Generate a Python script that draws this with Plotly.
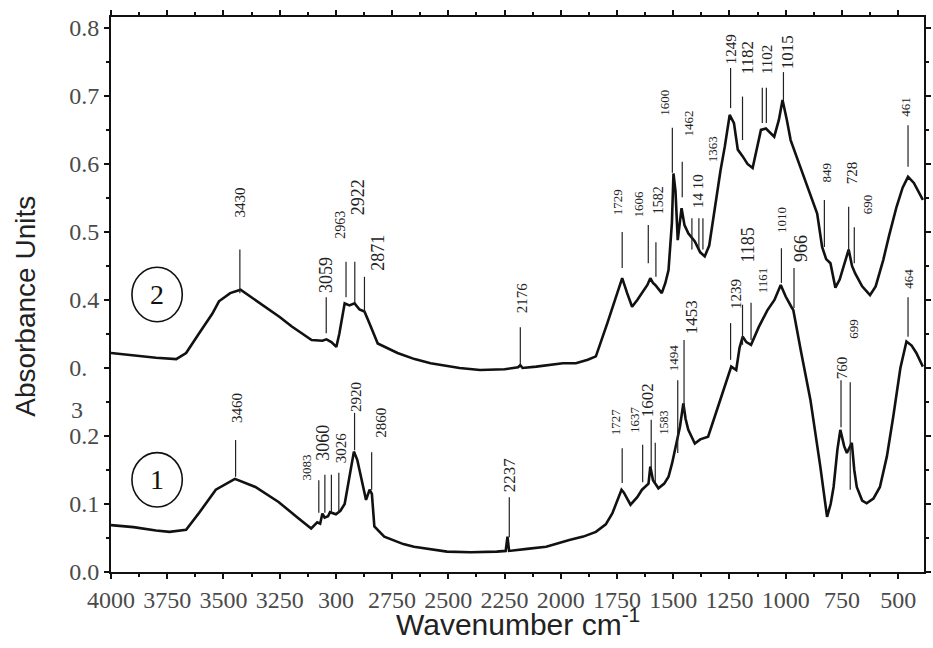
import plotly.graph_objects as go

# ---------------- data ----------------
wn1 = [4000, 3900, 3800, 3740, 3666, 3608, 3534, 3449, 3358, 3255, 3167, 3110, 3083, 3070, 3060, 3050,
       3035, 3026, 3000, 2980, 2961, 2940, 2920, 2905, 2895, 2866, 2850, 2840, 2829, 2785, 2700, 2653,
       2506, 2400, 2285, 2245, 2237, 2230, 2150, 2065, 1962, 1900, 1844, 1800, 1771, 1745, 1730, 1720,
       1690, 1660, 1639, 1610, 1602, 1590, 1566, 1540, 1521, 1505, 1492, 1470, 1455, 1445, 1433, 1404,
       1380, 1345, 1301, 1270, 1242, 1220, 1205, 1191, 1175, 1154, 1120, 1081, 1050, 1022, 1000, 975,
       966, 933, 890, 846, 816, 800, 787, 770, 757, 740, 728, 706, 695, 684, 660, 640, 610, 581, 550,
       522, 490, 463, 440, 419, 390]
ab1 = [0.069, 0.066, 0.061, 0.059, 0.062, 0.087, 0.121, 0.137, 0.125, 0.103, 0.079, 0.064, 0.073, 0.071,
       0.086, 0.080, 0.082, 0.088, 0.085, 0.090, 0.100, 0.140, 0.177, 0.165, 0.150, 0.106, 0.121, 0.115,
       0.067, 0.052, 0.041, 0.037, 0.030, 0.029, 0.030, 0.031, 0.052, 0.031, 0.034, 0.037, 0.047, 0.052,
       0.059, 0.070, 0.086, 0.110, 0.121, 0.117, 0.099, 0.110, 0.121, 0.130, 0.155, 0.135, 0.123, 0.130,
       0.140, 0.160, 0.179, 0.214, 0.248, 0.225, 0.209, 0.189, 0.195, 0.199, 0.243, 0.275, 0.302, 0.297,
       0.330, 0.346, 0.338, 0.334, 0.360, 0.385, 0.400, 0.422, 0.405, 0.390, 0.385, 0.326, 0.253, 0.155,
       0.081, 0.100, 0.125, 0.180, 0.209, 0.185, 0.175, 0.190, 0.150, 0.125, 0.105, 0.101, 0.108, 0.125,
       0.170, 0.228, 0.300, 0.339, 0.333, 0.322, 0.302]

wn2 = [4000, 3900, 3800, 3710, 3666, 3608, 3549, 3520, 3470, 3424, 3380, 3314, 3250, 3196, 3108, 3060,
       3042, 3020, 2998, 2985, 2961, 2940, 2917, 2895, 2873, 2850, 2814, 2726, 2650, 2579, 2450, 2359,
       2250, 2190, 2180, 2170, 2109, 1991, 1933, 1880, 1844, 1793, 1756, 1727, 1705, 1683, 1660, 1639,
       1615, 1602, 1590, 1580, 1551, 1535, 1521, 1506, 1499, 1490, 1480, 1463, 1450, 1433, 1404, 1380,
       1360, 1340, 1316, 1290, 1271, 1249, 1230, 1213, 1191, 1170, 1147, 1125, 1110, 1088, 1065, 1051,
       1030, 1014, 995, 978, 940, 904, 860, 838, 820, 801, 779, 760, 735, 720, 705, 691, 660, 625, 600,
       566, 540, 507, 480, 456, 430, 405, 390]
ab2 = [0.322, 0.318, 0.315, 0.313, 0.322, 0.351, 0.380, 0.398, 0.410, 0.415, 0.405, 0.390, 0.375, 0.361,
       0.341, 0.340, 0.342, 0.338, 0.331, 0.350, 0.395, 0.392, 0.395, 0.386, 0.383, 0.365, 0.336, 0.322,
       0.313, 0.307, 0.300, 0.297, 0.298, 0.301, 0.304, 0.300, 0.302, 0.307, 0.307, 0.312, 0.317, 0.366,
       0.405, 0.432, 0.410, 0.390, 0.400, 0.410, 0.422, 0.432, 0.425, 0.422, 0.410, 0.425, 0.444, 0.513,
       0.586, 0.560, 0.488, 0.535, 0.510, 0.498, 0.486, 0.470, 0.464, 0.480, 0.535, 0.590, 0.625, 0.672,
       0.660, 0.621, 0.611, 0.600, 0.594, 0.630, 0.650, 0.652, 0.645, 0.640, 0.665, 0.694, 0.665, 0.635,
       0.600, 0.567, 0.527, 0.478, 0.460, 0.454, 0.418, 0.430, 0.460, 0.474, 0.450, 0.439, 0.420, 0.407,
       0.420, 0.459, 0.495, 0.537, 0.565, 0.581, 0.572, 0.557, 0.547]

x_tickvals = [4000, 3750, 3500, 3250, 3000, 2750, 2500, 2250, 2000, 1750, 1500, 1250, 1000, 750, 500]
x_ticktext = ["4000", "3750", "3500", "3250", "300", "2750", "2500", "2250", "2000", "1750", "1500",
              "1250", "1000", "750", "500"]
y_tickvals = [0.0, 0.1, 0.2, 0.3, 0.4, 0.5, 0.6, 0.7, 0.8]
y_ticktext = ["0.0", "0.1", "0.2", "0.\u00a0\u00a0", "0.4", "0.5", "0.6", "0.7", "0.8"]

x_title = "Wavenumber cm<sup>-1</sup>"
y_title = "Absorbance Units"

# peak labels: text, line wavenumber(s), line bottom, line top, text wavenumber, text height
peaks2_text = ["3430", "3059", "2963", "2922", "2871", "2176", "1729", "1606", "1582", "1600", "1462",
               "14 10", "1363", "1249", "1182", "1102", "1015", "849", "728", "690", "461"]
peaks2_line = [[3427], [3043], [2955], [2916], [2873], [2180], [1727], [1611], [1577], [1504], [1460],
               [1417, 1386, 1368], [], [1245], [1192], [1104, 1086], [1010], [828], [720], [695], [456]]
peaks2_y0 = [0.410, 0.351, 0.404, 0.396, 0.382, 0.304, 0.447, 0.454, 0.434, 0.587, 0.551, 0.474, 0.0,
             0.682, 0.635, 0.660, 0.694, 0.478, 0.469, 0.454, 0.596]
peaks2_y1 = [0.474, 0.404, 0.456, 0.456, 0.434, 0.360, 0.500, 0.510, 0.485, 0.653, 0.603, 0.520, 0.0,
             0.741, 0.699, 0.712, 0.735, 0.547, 0.537, 0.507, 0.657]
peaks2_tx = [3427, 3043, 2983, 2902, 2814, 2175, 1749, 1655, 1562, 1536, 1433, 1390, 1325, 1245, 1170,
             1082, 992, 817, 707, 636, 465]
peaks2_ty = [0.543, 0.437, 0.510, 0.551, 0.469, 0.403, 0.544, 0.541, 0.547, 0.690, 0.660, 0.560, 0.621,
             0.768, 0.756, 0.753, 0.765, 0.587, 0.587, 0.540, 0.684]

peaks1_text = ["3460", "3083", "3060", "3026", "2920", "2860", "2237", "1727", "1637", "1602", "1583",
               "1494", "1453", "1239", "1185", "1161", "1010", "966", "760", "699", "464"]
peaks1_line = [[3446], [3076], [3049, 3020], [2987], [2917], [2841], [2229], [1727], [1636], [1598],
               [1580], [1480], [1452], [1245], [1192], [1154], [1019], [963], [754], [713], [456]]
peaks1_y0 = [0.140, 0.087, 0.087, 0.087, 0.179, 0.121, 0.051, 0.131, 0.132, 0.154, 0.132, 0.175, 0.234,
             0.312, 0.334, 0.341, 0.425, 0.388, 0.213, 0.121, 0.346]
peaks1_y1 = [0.194, 0.135, 0.143, 0.146, 0.234, 0.176, 0.110, 0.182, 0.187, 0.224, 0.190, 0.282, 0.341,
             0.366, 0.393, 0.396, 0.476, 0.447, 0.282, 0.279, 0.404]
peaks1_tx = [3440, 3132, 3057, 2977, 2911, 2801, 2228, 1756, 1673, 1611, 1543, 1499, 1418, 1220, 1169,
             1105, 1019, 933, 750, 698, 452]
peaks1_ty = [0.241, 0.154, 0.190, 0.182, 0.257, 0.219, 0.143, 0.221, 0.224, 0.253, 0.219, 0.315, 0.374,
             0.409, 0.481, 0.429, 0.518, 0.476, 0.301, 0.357, 0.431]

label_size2 = [15, 18, 14, 18, 18, 15, 13, 13, 14, 13, 13, 15, 13, 15, 17, 15, 17, 13, 15, 13, 13]
label_size1 = [15, 13, 18, 15, 15, 15, 17, 13, 13, 17, 12, 13, 17, 15, 18, 13, 13, 18, 15, 13, 13]

# ---------------- figure ----------------
lab_font = "Liberation Serif"
tick_font = dict(family="Liberation Serif", size=24, color="#4a4a4a")

fig = go.Figure()
line_style = dict(color="#111111", width=2.6)
fig.add_trace(go.Scatter(x=wn1, y=ab1, mode="lines", line=line_style, name="1", showlegend=False))
fig.add_trace(go.Scatter(x=wn2, y=ab2, mode="lines", line=line_style, name="2", showlegend=False))

for texts, lines, y0s, y1s, txs, tys, sizes in [
        (peaks2_text, peaks2_line, peaks2_y0, peaks2_y1, peaks2_tx, peaks2_ty, label_size2),
        (peaks1_text, peaks1_line, peaks1_y0, peaks1_y1, peaks1_tx, peaks1_ty, label_size1)]:
    for t, ls, y0, y1, tx, ty, sz in zip(texts, lines, y0s, y1s, txs, tys, sizes):
        for lx in ls:
            fig.add_shape(type="line", xref="x", yref="y", x0=lx, x1=lx, y0=y0, y1=y1,
                          line=dict(color="#222222", width=1.2))
        fig.add_annotation(x=tx, y=ty, xref="x", yref="y", text=t, showarrow=False, textangle=-90,
                           font=dict(family=lab_font, size=sz, color="#222222"))

# circled curve numbers
for num, yc in [("2", 0.408), ("1", 0.1355)]:
    fig.add_shape(type="circle", xref="x", yref="y", x0=3907, x1=3683, y0=yc - 0.040, y1=yc + 0.040,
                  line=dict(color="#111111", width=1.6))
    fig.add_annotation(x=3795, y=yc, xref="x", yref="y", text=num, showarrow=False,
                       font=dict(family=lab_font, size=28, color="#111111"))

# stray "3" of the 0.3 tick label
fig.add_annotation(x=-0.052, y=0.238, xref="paper", yref="y", text="3", showarrow=False,
                   font=tick_font)

# axis titles
fig.add_annotation(x=0.5, y=-0.090, xref="paper", yref="paper", text=x_title, showarrow=False,
                   xanchor="center", yanchor="middle",
                   font=dict(family="Liberation Sans", size=30, color="#222222"))
fig.add_annotation(x=-0.105, y=0.479, xref="paper", yref="paper", text=y_title, showarrow=False,
                   textangle=-90, xanchor="center", yanchor="middle",
                   font=dict(family="Liberation Sans", size=28, color="#222222"))

fig.update_layout(
    width=933, height=648, autosize=False,
    margin=dict(l=111, r=2, t=17, b=76),
    paper_bgcolor="white", plot_bgcolor="white",
    font=dict(family="Liberation Serif", size=24, color="#4a4a4a"),
)
fig.update_xaxes(
    range=[4000, 385], tickmode="array", tickvals=x_tickvals, ticktext=x_ticktext,
    tickfont=tick_font,
    showline=True, linecolor="#111111", linewidth=2, mirror="ticks", ticks="outside",
    ticklen=5, tickwidth=1.5, tickcolor="#111111", showgrid=False, zeroline=False,
    minor=dict(ticks="outside", ticklen=3, dtick=125, tick0=0, tickcolor="#111111"),
)
fig.update_yaxes(
    range=[0, 0.816], tickmode="array", tickvals=y_tickvals, ticktext=y_ticktext,
    tickfont=tick_font,
    showline=True, linecolor="#111111", linewidth=2, mirror="ticks", ticks="outside",
    ticklen=5, tickwidth=1.5, tickcolor="#111111", showgrid=False, zeroline=False,
    minor=dict(ticks="outside", ticklen=3, dtick=0.05, tick0=0, tickcolor="#111111"),
)

fig.write_html("out.html")
